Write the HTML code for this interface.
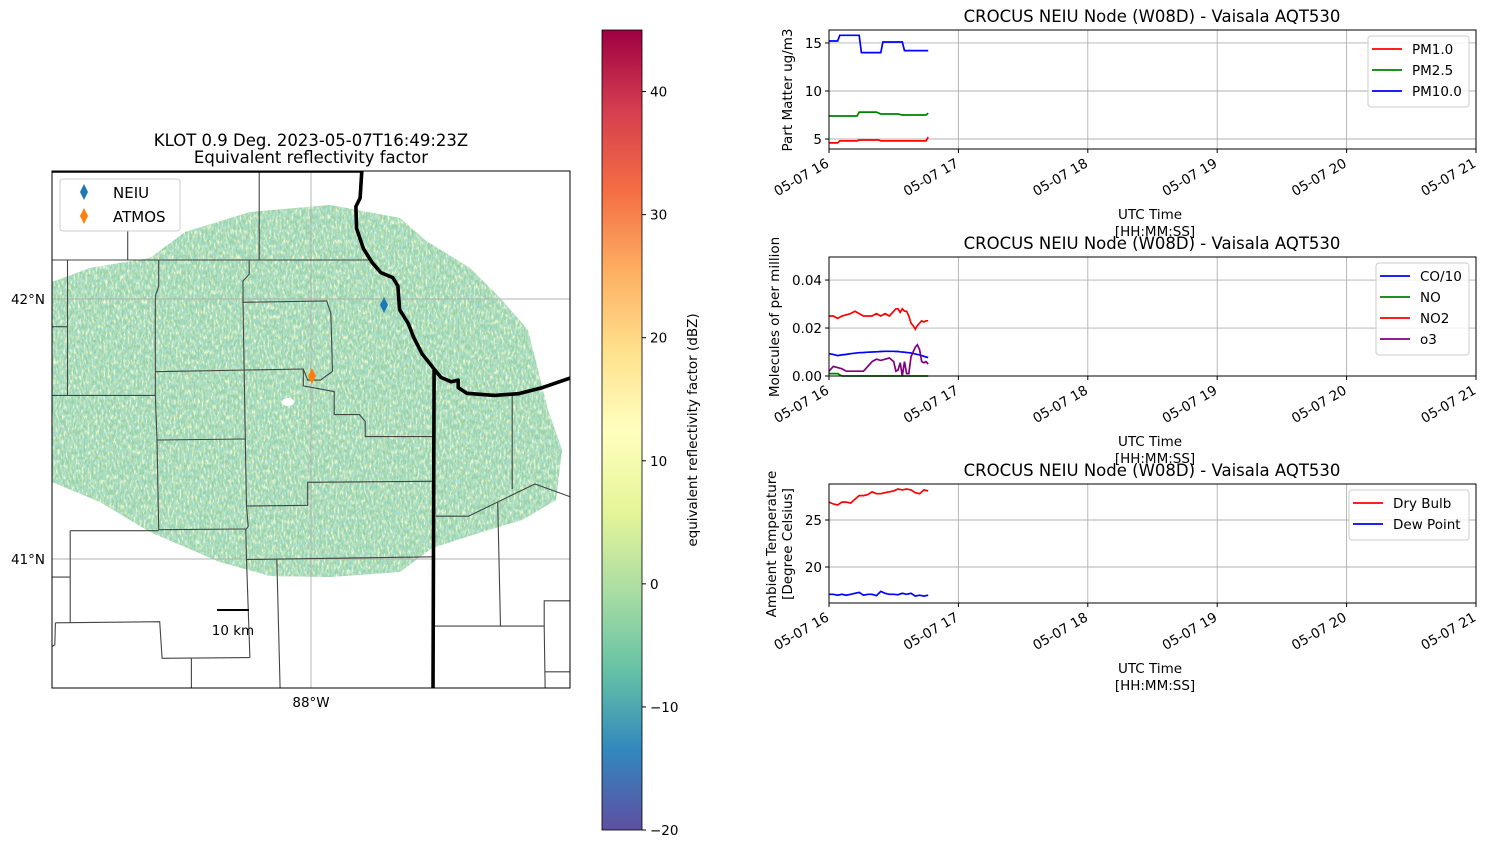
<!DOCTYPE html>
<html><head><meta charset="utf-8"><style>
html,body{margin:0;padding:0;background:#fff;}
svg{display:block;font-family:"DejaVu Sans","Liberation Sans",sans-serif;}
</style></head><body>
<svg id="fig" width="1486" height="848" viewBox="0 0 1486 848" xmlns="http://www.w3.org/2000/svg">
<defs>
<linearGradient id="spec" x1="0" y1="1" x2="0" y2="0">
<stop offset="0" stop-color="#5e4fa2"/><stop offset="0.1" stop-color="#3288bd"/><stop offset="0.2" stop-color="#66c2a5"/><stop offset="0.3" stop-color="#abdda4"/><stop offset="0.4" stop-color="#e6f598"/><stop offset="0.5" stop-color="#ffffbf"/><stop offset="0.6" stop-color="#fee08b"/><stop offset="0.7" stop-color="#fdae61"/><stop offset="0.8" stop-color="#f46d43"/><stop offset="0.9" stop-color="#d53e4f"/><stop offset="1" stop-color="#9e0142"/>
</linearGradient>
<clipPath id="mapclip"><rect x="52" y="171" width="518" height="517"/></clipPath>
<clipPath id="blobclip"><path id="blobpath" d="M52,282 L90,268 L150,258 L185,232 L250,212 L330,205 L400,218 L425,240 L470,268 L500,298 L528,330 L540,378 L548,410 L562,450 L556,500 L522,520 L482,532 L432,548 L400,572 L330,577 L270,576 L220,562 L150,532 L100,502 L52,482 Z"/></clipPath>
<filter id="speck" x="0" y="0" width="100%" height="100%">
<feTurbulence type="fractalNoise" baseFrequency="0.5 0.2" numOctaves="2" seed="3"/>
<feColorMatrix type="matrix" values="0 0 0 0 0.92  0 0 0 0 0.96  0 0 0 0 0.62  3 0 0 0 -1.2"/>
</filter>
<filter id="speck2" x="0" y="0" width="100%" height="100%">
<feTurbulence type="fractalNoise" baseFrequency="0.55 0.25" numOctaves="2" seed="9"/>
<feColorMatrix type="matrix" values="0 0 0 0 0.36  0 0 0 0 0.72  0 0 0 0 0.66  3 0 0 0 -1.2"/>
</filter>
</defs>

<!-- MAP -->
<g>
<text x="311" y="146" font-size="16.5" text-anchor="middle">KLOT 0.9 Deg. 2023-05-07T16:49:23Z</text>
<text x="311" y="163" font-size="16.5" text-anchor="middle">Equivalent reflectivity factor</text>
<g clip-path="url(#mapclip)">
<g clip-path="url(#blobclip)">
<rect x="40" y="195" width="540" height="400" fill="#98d1a3"/>
<rect x="40" y="195" width="540" height="400" filter="url(#speck)"/>
<rect x="40" y="195" width="540" height="400" filter="url(#speck2)"/>
</g>
<ellipse cx="288" cy="402" rx="6" ry="4" fill="#fff"/>
<g stroke="#b0b0b0" stroke-width="0.9">
<line x1="311" y1="171" x2="311" y2="688"/><line x1="52" y1="299" x2="570" y2="299"/><line x1="52" y1="559" x2="570" y2="559"/>
</g>
<g id="counties" stroke="#444" stroke-width="1.1" fill="none"></g>
<path id="lake" fill="none" stroke="#000" stroke-width="3.6" stroke-linejoin="round"/>
</g>
<rect x="52" y="171" width="518" height="517" fill="none" stroke="#000" stroke-width="1"/>
<path d="M384,297 L388,305 L384,313 L380,305 Z" fill="#1f77b4"/>
<path d="M312,368 L316,376 L312,384 L308,376 Z" fill="#ff7f0e"/>
<g>
<rect x="60" y="179" width="120" height="52" rx="3" fill="#fff" fill-opacity="0.8" stroke="#ccc"/>
<path d="M84,184 L88,192 L84,200 L80,192 Z" fill="#1f77b4"/>
<text x="113" y="198" font-size="15">NEIU</text>
<path d="M84,208 L88,216 L84,224 L80,216 Z" fill="#ff7f0e"/>
<text x="113" y="222" font-size="15">ATMOS</text>
</g>
<g><line x1="217" y1="610" x2="249" y2="610" stroke="#000" stroke-width="2"/>
<text x="233" y="635" font-size="13.5" text-anchor="middle">10 km</text></g>
<text x="45" y="304" font-size="13.5" text-anchor="end">42°N</text>
<text x="45" y="564" font-size="13.5" text-anchor="end">41°N</text>
<text x="311" y="707" font-size="13.5" text-anchor="middle">88°W</text>
</g>

<!-- COLORBAR -->
<g id="cbar">
<rect x="602" y="30" width="40" height="800" fill="url(#spec)" stroke="#000" stroke-width="0.8"/>
<text transform="translate(697,430) rotate(-90)" font-size="13.5" text-anchor="middle">equivalent reflectivity factor (dBZ)</text>
</g>

<g id="charts"></g>
</svg>
<script>
// ---------- chart data (minutes after 16:00 UTC) ----------
const hourTicks = [16,17,18,19,20,21];
const hourLabels = ["05-07 16","05-07 17","05-07 18","05-07 19","05-07 20","05-07 21"];
const cbarTicks = [-20,-10,0,10,20,30,40];

const pm10T = [0,4,5,14,15,24,25,34,35,46];
const pm10V = [15.2,15.2,15.8,15.8,14.0,14.0,15.1,15.1,14.2,14.2];
const pm25T = [0,13,14,22,24,32,34,45,46];
const pm25V = [7.4,7.4,7.8,7.8,7.6,7.6,7.5,7.5,7.7];
const pm1T = [0,4,5,13,14,23,24,44,45,46];
const pm1V = [4.6,4.6,4.8,4.8,4.9,4.9,4.8,4.8,4.8,5.2];

const gasT = [0,2,4,6,8,10,12,14,16,18,20,22,24,26,28,30,31,32,33,34,35,36,37,38,39,40,41,42,43,44,45,46];
const coV  = [0.0093,0.009,0.0085,0.0088,0.009,0.0093,0.0095,0.0097,0.0098,0.0099,0.01,0.0101,0.0102,0.0103,0.0103,0.0103,0.0102,0.0102,0.0101,0.01,0.0099,0.0098,0.0097,0.0096,0.0094,0.0092,0.009,0.0088,0.0085,0.0082,0.0079,0.0077];
const no2V = [0.025,0.025,0.024,0.025,0.0255,0.026,0.027,0.026,0.025,0.025,0.025,0.026,0.025,0.026,0.025,0.027,0.028,0.028,0.0265,0.028,0.027,0.027,0.025,0.022,0.021,0.0195,0.021,0.022,0.023,0.0225,0.023,0.023];
const noV  = [0.001,0.001,0.001,0.0,0.0,0.0,0.0,0.0,0.0,0.0,0.0,0.0,0.0,0.0,0.0,0.0,0.0,0.0,0.0,0.0,0.0,0.0,0.0,0.0,0.0,0.0,0.0,0.0,0.0,0.0,0.0,0.0];
const o3V  = [0.002,0.004,0.0035,0.003,0.002,0.002,0.002,0.002,0.002,0.004,0.006,0.007,0.0065,0.007,0.0075,0.006,0.002,0.0025,0.0055,0.0,0.006,0.001,0.001,0.008,0.01,0.012,0.013,0.011,0.006,0.0055,0.006,0.005];

const tempT = [0,2,4,6,8,10,12,14,16,18,20,22,24,26,28,30,32,34,36,38,40,42,44,46];
const dryV = [26.9,26.7,26.6,26.9,26.9,26.8,27.2,27.6,27.6,27.7,28.0,27.8,27.8,27.9,28.0,28.1,28.3,28.2,28.3,28.2,27.9,27.8,28.2,28.1];
const dewV = [17.1,17.1,17.0,17.1,17.0,17.1,17.2,17.3,17.0,17.1,17.1,16.95,17.4,17.2,17.1,17.1,17.05,17.2,17.1,17.2,16.9,17.0,16.9,17.0];

// ---------- map line geometry (zoom-space coords) ----------
const NS="http://www.w3.org/2000/svg";
function mx(zx){return 52+(zx-35)*0.3442;}
function my(zy){return 171+(zy-20)*0.3384;}
const lakeZ=[[35,20],[935,20],[930,100],[918,125],[920,190],[940,250],[965,290],[990,320],[1025,335],[1040,360],[1045,430],[1070,470],[1085,510],[1110,560],[1145,605],[1165,630],[1195,643],[1215,638],[1215,660],[1240,677],[1320,683],[1390,678],[1460,660],[1540,632]];
let d=lakeZ.map((p,i)=>(i?'L':'M')+mx(p[0]).toFixed(1)+','+my(p[1]).toFixed(1)).join(' ');
d+=' M'+mx(1145).toFixed(1)+','+my(605).toFixed(1)+' L'+mx(1142).toFixed(1)+','+my(1560).toFixed(1);
document.getElementById('lake').setAttribute('d',d);
const countyZ=[
[[35,283],[960,283]],[[637,20],[637,283]],[[255,195],[255,283]],
[[345,283],[345,360],[335,390],[335,683],[340,815],[345,1080]],
[[608,283],[608,325],[590,345],[590,408],[598,900],[600,1010],[605,1070],[598,1080],[600,1168],[610,1458]],
[[590,408],[833,404],[845,440],[850,612],[815,638],[778,638],[765,605],[335,613]],
[[765,605],[765,655],[855,672],[855,740],[928,740],[945,760],[945,805],[1140,805]],
[[35,480],[80,480]],[[80,283],[80,683]],[[35,683],[335,683]],
[[340,815],[598,812]],[[600,1010],[778,1008],[778,940],[1140,937]],
[[345,1080],[598,1078]],[[88,1083],[345,1083]],[[88,1083],[88,1355]],
[[45,1355],[348,1352],[355,1460],[610,1458]],[[45,1355],[43,1420],[35,1425]],
[[35,1220],[88,1220]],[[600,1168],[1140,1160]],[[688,1165],[698,1560]],[[440,1460],[440,1560]],
[[1150,1040],[1245,1040],[1438,945],[1560,990]],[[1330,1000],[1338,1365]],
[[1148,1365],[1465,1365],[1465,1290],[1560,1290]],[[1465,1365],[1468,1560]],[[1468,1500],[1560,1500]],
[[1372,683],[1372,960]]];
const cg=document.getElementById('counties');
countyZ.forEach(seg=>{
  const p=document.createElementNS(NS,'polyline');
  p.setAttribute('points',seg.map(q=>mx(q[0]).toFixed(1)+','+my(q[1]).toFixed(1)).join(' '));
  
  
  cg.appendChild(p);
});

// ---------- colorbar ticks ----------
const cb=document.getElementById('cbar');
function cbY(v){return 830-(v+20)/65*800;}
cbarTicks.forEach(v=>{
  const y=cbY(v);
  const l=document.createElementNS(NS,'line');
  l.setAttribute('x1',642);l.setAttribute('x2',646);l.setAttribute('y1',y);l.setAttribute('y2',y);l.setAttribute('stroke','#000');
  
  
  cb.appendChild(l);
  const t=document.createElementNS(NS,'text');
  t.setAttribute('x',650);t.setAttribute('y',y+5);t.setAttribute('font-size','13.5');
  t.textContent=(v<0?'\u2212'+(-v):String(v));
  
  
  cb.appendChild(t);
});

// ---------- time-series panels ----------
const charts=document.getElementById('charts');
const X0=829,X1=1476;
function xS(h){return X0+(h-16)/5*(X1-X0);}
function xMin(m){return xS(16+m/60);}
function el(tag,attrs,parent){const e=document.createElementNS(NS,tag);for(const k in attrs)e.setAttribute(k,attrs[k]);parent.appendChild(e);return e;}

function panel(cfg){
  const g=el('g',{},charts);
  
  
  const top=cfg.top,bot=cfg.top+119;
  const yS=v=>bot-(v-cfg.ymin)/(cfg.ymax-cfg.ymin)*(bot-top);
  hourTicks.forEach(h=>{const l=el('line',{x1:xS(h),x2:xS(h),y1:top,y2:bot,stroke:'#b0b0b0','stroke-width':0.9},g);
    
    });
  cfg.yt.forEach(v=>{const l=el('line',{x1:X0,x2:X1,y1:yS(v),y2:yS(v),stroke:'#b0b0b0','stroke-width':0.9},g);
    
    });
  cfg.series.forEach(s=>{
    const p=el('polyline',{points:s.t.map((t,i)=>xMin(t).toFixed(1)+','+yS(s.v[i]).toFixed(1)).join(' '),fill:'none',stroke:s.c,'stroke-width':1.7},g);
    
    
  });
  el('rect',{x:X0,y:top,width:X1-X0,height:119,fill:'none',stroke:'#000','stroke-width':1},g);
  cfg.yt.forEach((v,i)=>{el('line',{x1:X0-4,x2:X0,y1:yS(v),y2:yS(v),stroke:'#000'},g);
    const t=el('text',{x:X0-7,y:yS(v)+5,'font-size':13.5,'text-anchor':'end'},g);t.textContent=cfg.ytl[i];
    
    });
  hourTicks.forEach((h,i)=>{el('line',{x1:xS(h),x2:xS(h),y1:bot,y2:bot+4,stroke:'#000'},g);
    const t=el('text',{transform:'translate('+(xS(h)+1)+','+(bot+17)+') rotate(-30)','font-size':13.5,'text-anchor':'end'},g);t.textContent=hourLabels[i];
    
    });
  const tt=el('text',{x:1152,y:top-8,'font-size':16.5,'text-anchor':'middle'},g);tt.textContent='CROCUS NEIU Node (W08D) - Vaisala AQT530';
  
  
  const a=el('text',{x:1150,y:bot+70,'font-size':13.5,'text-anchor':'middle'},g);a.textContent='UTC Time';
  
  
  const b=el('text',{x:1155,y:bot+87,'font-size':13.5,'text-anchor':'middle'},g);b.textContent='[HH:MM:SS]';
  
  
  cfg.ylab.forEach((s,i)=>{const yl=el('text',{transform:'translate('+(cfg.ylx+i*16)+','+(top+60)+') rotate(-90)','font-size':13.5,'text-anchor':'middle'},g);yl.textContent=s;
    
    });
  const lg=el('g',{},g);
  
  
  const lx=cfg.lx, ly=top+6, h=cfg.series.length*21+8;
  el('rect',{x:lx,y:ly,width:X1-7-lx,height:h,rx:3,fill:'#fff','fill-opacity':0.8,stroke:'#ccc'},lg);
  cfg.series.forEach((s,i)=>{const yy=ly+13+i*21;
    el('line',{x1:lx+4,x2:lx+34,y1:yy,y2:yy,stroke:s.c,'stroke-width':1.7},lg);
    const t=el('text',{x:lx+44,y:yy+5,'font-size':13.5},lg);t.textContent=s.n;
    
    });
}

panel({name:'pm-panel',top:30,ymin:3.96,ymax:16.35,yt:[5,10,15],ytl:['5','10','15'],ylx:792,ylab:['Part Matter ug/m3'],lx:1368,
  series:[{n:'PM1.0',c:'#ff0000',t:pm1T,v:pm1V},{n:'PM2.5',c:'#008000',t:pm25T,v:pm25V},{n:'PM10.0',c:'#0000ff',t:pm10T,v:pm10V}]});
panel({name:'gas-panel',top:257,ymin:0,ymax:0.0496,yt:[0,0.02,0.04],ytl:['0.00','0.02','0.04'],ylx:779,ylab:['Molecules of per million'],lx:1376,
  series:[{n:'CO/10',c:'#0000ff',t:gasT,v:coV},{n:'NO',c:'#008000',t:gasT,v:noV},{n:'NO2',c:'#ff0000',t:gasT,v:no2V},{n:'o3',c:'#800080',t:gasT,v:o3V}]});
panel({name:'temp-panel',top:484,ymin:16.17,ymax:28.83,yt:[20,25],ytl:['20','25'],ylx:776,ylab:['Ambient Temperature','[Degree Celsius]'],lx:1349,
  series:[{n:'Dry Bulb',c:'#ff0000',t:tempT,v:dryV},{n:'Dew Point',c:'#0000ff',t:tempT,v:dewV}]});
</script>
</body></html>
